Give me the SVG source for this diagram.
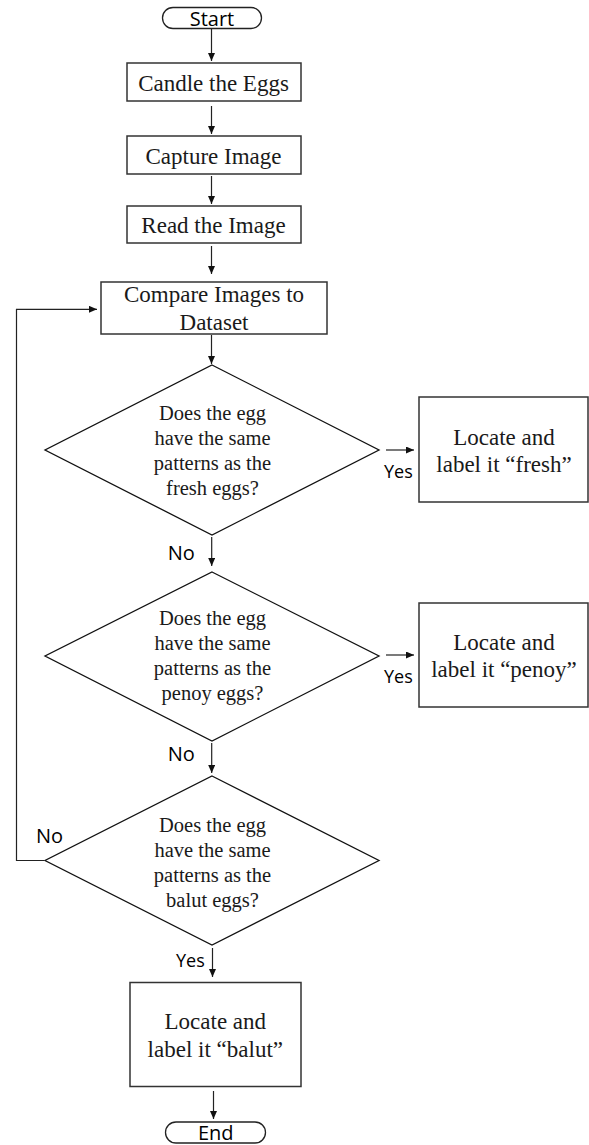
<svg xmlns="http://www.w3.org/2000/svg" width="589" height="1145" viewBox="0 0 589 1145">
<style>
.box{fill:#fff;stroke:#333;stroke-width:1.5}
.dia{fill:#fff;stroke:#111;stroke-width:1.3}
.term{fill:#fff;stroke:#222;stroke-width:1.3}
.ser{font-family:"Liberation Serif","Times New Roman",serif;fill:#1a1a1a;text-anchor:middle}
.bt{font-size:23px}
.dt{font-size:20.5px}
.sans{font-family:"Open Sans","Noto Sans",sans-serif;fill:#000}
.lbl{font-size:20px}
.yes{font-size:18px}
.con{fill:none;stroke:#222;stroke-width:1.2}
</style>
<defs>
<marker id="ah" markerUnits="userSpaceOnUse" markerWidth="9" markerHeight="8" refX="8" refY="3.5" orient="auto">
<path d="M0,0 L8,3.5 L0,7 z" fill="#111"/>
</marker>
</defs>

<g id="connectors">
<line class="con" x1="211.5" y1="29" x2="211.5" y2="61" marker-end="url(#ah)"/>
<line class="con" x1="211.5" y1="106" x2="211.5" y2="134" marker-end="url(#ah)"/>
<line class="con" x1="211.5" y1="176" x2="211.5" y2="204" marker-end="url(#ah)"/>
<line class="con" x1="211.5" y1="246" x2="211.5" y2="274" marker-end="url(#ah)" stroke="#777"/>
<line class="con" x1="211.5" y1="335" x2="211.5" y2="364" marker-end="url(#ah)"/>
<line class="con" x1="386" y1="450" x2="414" y2="450" marker-end="url(#ah)"/>
<line class="con" x1="211.7" y1="537" x2="211.7" y2="566" marker-end="url(#ah)"/>
<line class="con" x1="386" y1="655" x2="414" y2="655" marker-end="url(#ah)" stroke="#777"/>
<line class="con" x1="211.7" y1="743" x2="211.7" y2="773" marker-end="url(#ah)"/>
<line class="con" x1="212.5" y1="948" x2="212.5" y2="977" marker-end="url(#ah)"/>
<line class="con" x1="213.5" y1="1091" x2="213.5" y2="1119" marker-end="url(#ah)"/>
<polyline class="con" points="44,860.5 16.5,860.5 16.5,309.3 97,309.3" marker-end="url(#ah)" stroke="#555"/>
<text class="sans yes" x="384" y="478.3">Yes</text>
<text class="sans lbl" x="167.7" y="559.5">No</text>
<text class="sans yes" x="384" y="683">Yes</text>
<text class="sans lbl" x="167.7" y="761">No</text>
<text class="sans lbl" x="36" y="842.5">No</text>
<text class="sans yes" x="176" y="967.3">Yes</text>
</g>

<g id="start">
<rect class="term" x="162.5" y="7.5" width="99" height="21" rx="10.5"/>
<text class="sans lbl" x="212" y="26" text-anchor="middle">Start</text>
</g>

<g id="candle">
<rect class="box" x="127" y="63" width="174" height="38"/>
<text class="ser bt" x="213.5" y="91">Candle the Eggs</text>
</g>

<g id="capture">
<rect class="box" x="127" y="136" width="174" height="38"/>
<text class="ser bt" x="213.5" y="163.5">Capture Image</text>
</g>

<g id="read">
<rect class="box" x="127" y="206" width="174" height="37"/>
<text class="ser bt" x="213.5" y="232.5">Read the Image</text>
</g>

<g id="compare">
<rect class="box" x="101" y="282" width="226" height="52"/>
<text class="ser bt" x="214" y="302">Compare Images to</text>
<text class="ser bt" x="214" y="330">Dataset</text>
</g>

<g id="decision-fresh">
<polygon class="dia" points="212,365 379,450 212,535 45,450"/>
<text class="ser dt" x="212.5" y="420">Does the egg</text>
<text class="ser dt" x="212.5" y="445">have the same</text>
<text class="ser dt" x="212.5" y="469.5">patterns as the</text>
<text class="ser dt" x="212.5" y="494.5">fresh eggs?</text>
</g>

<g id="fresh">
<rect class="box" x="419" y="397" width="169" height="105"/>
<text class="ser bt" x="504" y="444.5">Locate and</text>
<text class="ser bt" x="504" y="472">label it “fresh”</text>
</g>

<g id="decision-penoy">
<polygon class="dia" points="212,572 379,656 212,741 45,656"/>
<text class="ser dt" x="212.5" y="625">Does the egg</text>
<text class="ser dt" x="212.5" y="650">have the same</text>
<text class="ser dt" x="212.5" y="675">patterns as the</text>
<text class="ser dt" x="212.5" y="700">penoy eggs?</text>
</g>

<g id="penoy">
<rect class="box" x="419" y="603" width="169" height="104"/>
<text class="ser bt" x="504" y="649.5">Locate and</text>
<text class="ser bt" x="504" y="677">label it “penoy”</text>
</g>

<g id="decision-balut">
<polygon class="dia" points="212,776 379,860.5 212,945 45,860.5"/>
<text class="ser dt" x="212.5" y="831.5">Does the egg</text>
<text class="ser dt" x="212.5" y="856.5">have the same</text>
<text class="ser dt" x="212.5" y="881.5">patterns as the</text>
<text class="ser dt" x="212.5" y="906.5">balut eggs?</text>
</g>

<g id="balut">
<rect class="box" x="130" y="982.5" width="171" height="104"/>
<text class="ser bt" x="215.3" y="1029.3">Locate and</text>
<text class="ser bt" x="215.3" y="1056.7">label it “balut”</text>
</g>

<g id="end">
<rect class="term" x="165.5" y="1122" width="100" height="21" rx="10.5"/>
<text class="sans lbl" x="215.8" y="1139.5" text-anchor="middle">End</text>
</g>
</svg>
